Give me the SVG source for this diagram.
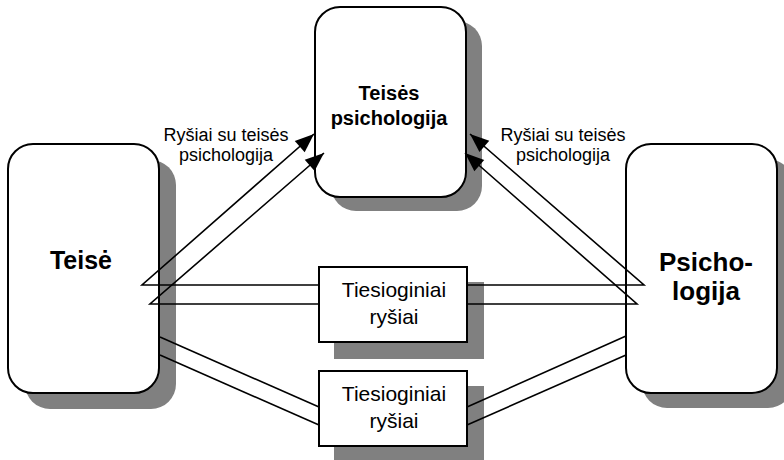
<svg xmlns="http://www.w3.org/2000/svg" width="784" height="460" viewBox="0 0 784 460">
<defs>
<style>
.sh{fill:#808080;stroke:none}
.bx{fill:#fff;stroke:#000;stroke-width:2}
.big{font-family:"Liberation Sans",Arial,sans-serif;font-weight:bold;text-anchor:middle;fill:#000}
.lbl{font-family:"Liberation Sans",Arial,sans-serif;text-anchor:middle;fill:#000}
.ln{fill:none;stroke:#000;stroke-width:1.6;stroke-linejoin:miter}
</style>
<marker id="ah" markerUnits="userSpaceOnUse" markerWidth="20" markerHeight="15" refX="19" refY="7.5" orient="auto" overflow="visible">
<path d="M0,0 L19,7.5 L0,15 z" fill="#000"/>
</marker>
</defs>
<rect width="784" height="460" fill="#fff"/>
<g id="node-teises-psichologija">
<rect class="sh" x="331" y="21" width="151" height="190" rx="25"/>
<rect class="bx" x="315" y="7" width="151" height="190" rx="25"/>
<text class="big" x="389" y="100" font-size="20">Teisės</text>
<text class="big" x="389" y="125" font-size="20">psichologija</text>
</g>
<g id="node-teise">
<rect class="sh" x="25" y="160" width="151" height="249" rx="25"/>
<rect class="bx" x="8" y="144" width="151" height="249" rx="25"/>
<text class="big" x="81" y="269" font-size="25">Teisė</text>
</g>
<g id="node-psichologija">
<rect class="sh" x="642" y="159" width="151" height="249" rx="25"/>
<rect class="bx" x="626" y="144" width="151" height="249" rx="25"/>
<text class="big" x="706" y="271" font-size="26">Psicho-</text>
<text class="big" x="706" y="300" font-size="26">logija</text>
</g>
<g id="node-tiesioginiai-1">
<rect class="sh" x="334" y="282" width="150" height="77"/>
<rect class="bx" x="319" y="267" width="148" height="75"/>
<text class="lbl" x="394" y="297" font-size="21">Tiesioginiai</text>
<text class="lbl" x="394" y="324" font-size="21">ryšiai</text>
</g>
<g id="node-tiesioginiai-2">
<rect class="sh" x="334" y="386" width="150" height="77"/>
<rect class="bx" x="319" y="371" width="148" height="75"/>
<text class="lbl" x="394" y="401" font-size="21">Tiesioginiai</text>
<text class="lbl" x="394" y="428" font-size="21">ryšiai</text>
</g>
<g id="connectors">
<polyline class="ln" points="319,285 142,285 314,134" marker-end="url(#ah)"/>
<polyline class="ln" points="319,304 150,304 324,153" marker-end="url(#ah)"/>
<polyline class="ln" points="467,285 644,285 470,134" marker-end="url(#ah)"/>
<polyline class="ln" points="467,304 637,304 465,153" marker-end="url(#ah)"/>
<line class="ln" x1="160" y1="337" x2="319" y2="407"/>
<line class="ln" x1="160" y1="355" x2="319" y2="425"/>
<line class="ln" x1="467" y1="407" x2="626" y2="336"/>
<line class="ln" x1="467" y1="425" x2="626" y2="355"/>
</g>
<g id="labels">
<text class="lbl" x="226" y="141" font-size="18">Ryšiai su teisės</text>
<text class="lbl" x="226" y="161" font-size="18">psichologija</text>
<text class="lbl" x="563" y="141" font-size="18">Ryšiai su teisės</text>
<text class="lbl" x="563" y="161" font-size="18">psichologija</text>
</g>
</svg>
